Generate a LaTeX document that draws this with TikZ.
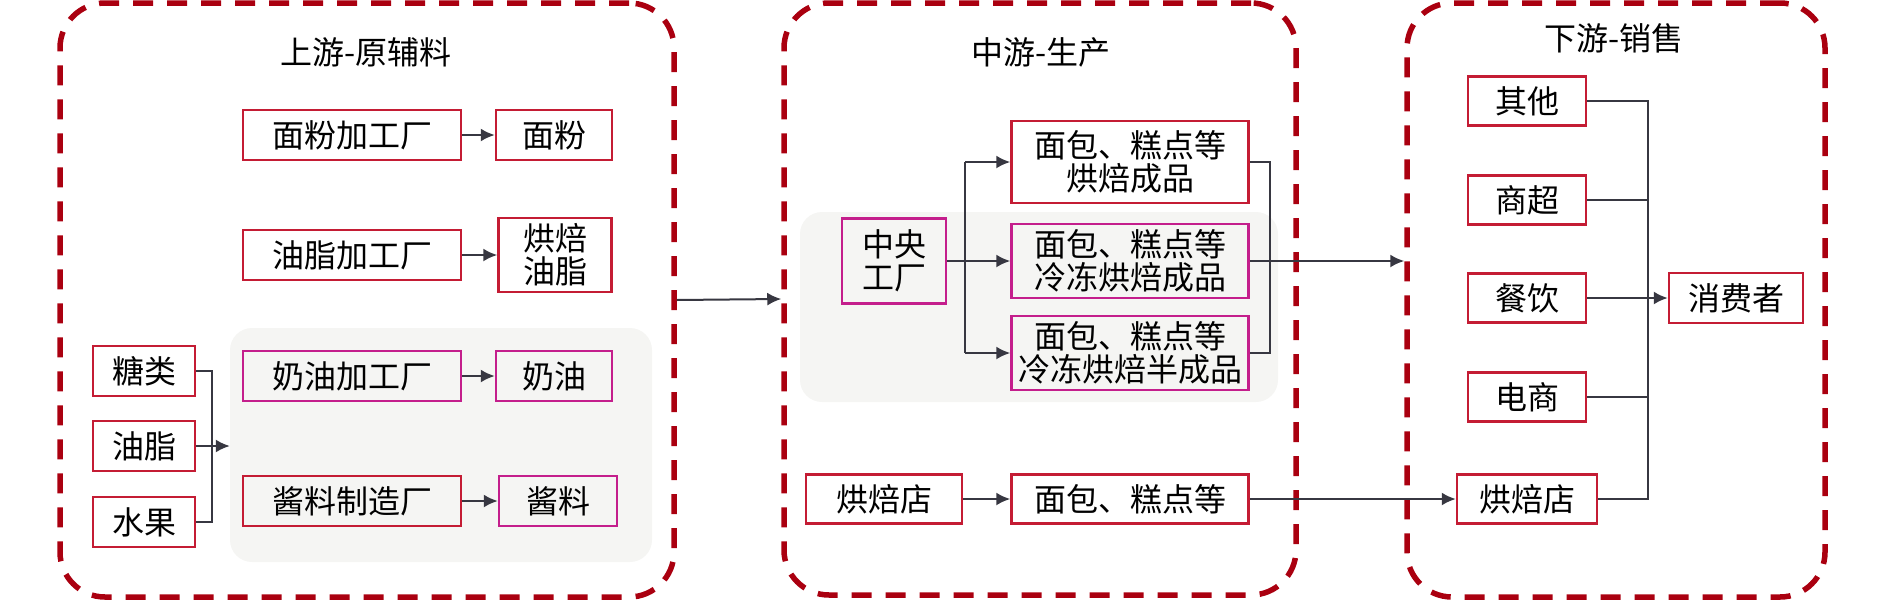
\documentclass[tikz,border=0pt]{standalone}
\usepackage{fontspec}
\setmainfont{Noto Sans CJK SC}
\usetikzlibrary{arrows.meta}
\definecolor{panelred}{RGB}{170,0,16}
\definecolor{boxred}{RGB}{196,28,52}
\definecolor{boxpink}{RGB}{196,30,140}
\definecolor{bggray}{RGB}{245,245,243}
\definecolor{linegray}{RGB}{55,55,65}
\begin{document}
\begin{tikzpicture}[x=1pt,y=-1pt,
  panel/.style={draw=panelred,line width=5.5pt,dash pattern=on 20pt off 14pt,rounded corners=45pt,inner sep=0pt},
  bg/.style={fill=bggray,rounded corners=22pt,inner sep=0pt},
  box/.style={draw=boxred,line width=2.5pt,inner sep=0pt,align=center,font=\fontsize{32}{33}\selectfont},
  pbox/.style={box,draw=boxpink},
  title/.style={font=\fontsize{32}{34}\selectfont},
  conn/.style={draw=linegray,line width=2pt},
  arr/.style={conn,-{Latex[length=14pt,width=13pt]}}]
  \useasboundingbox (0,0) rectangle (1890,600);

  % panels
  \node[panel,minimum width=614pt,minimum height=594pt] (upanel) at (367,300){};
  \node[panel,minimum width=512pt,minimum height=592pt] (mpanel) at (1040,299){};
  \node[panel,minimum width=418pt,minimum height=594pt] (dpanel) at (1616,300){};
  \node[title] (utitle) at (366,52){上游-原辅料};
  \node[title] (mtitle) at (1041,52){中游-生产};
  \node[title] (dtitle) at (1614,38){下游-销售};

  % gray backgrounds
  \node[bg,minimum width=422pt,minimum height=234pt] (ubg) at (441,445){};
  \node[bg,minimum width=478pt,minimum height=190pt] (mbg) at (1039,307){};

  % upstream
  \node[box,minimum width=218pt,minimum height=50pt] (mfjg) at (352,135){面粉加工厂};
  \node[box,minimum width=116pt,minimum height=50pt] (mf) at (554,135){面粉};
  \node[box,minimum width=218pt,minimum height=50pt] (yzjg) at (352,255){油脂加工厂};
  \node[box,minimum width=113pt,minimum height=74pt] (hbyz) at (555,255){烘焙\\油脂};
  \node[pbox,minimum width=218pt,minimum height=50pt] (nyjg) at (352,376){奶油加工厂};
  \node[pbox,minimum width=116pt,minimum height=50pt] (ny) at (554,376){奶油};
  \node[box,minimum width=218pt,minimum height=50pt] (jlzz) at (352,501){酱料制造厂};
  \node[pbox,minimum width=118pt,minimum height=50pt] (jl) at (558,501){酱料};
  \node[box,minimum width=102pt,minimum height=50pt] (tl) at (144,371){糖类};
  \node[box,minimum width=102pt,minimum height=50pt] (yz) at (144,446){油脂};
  \node[box,minimum width=102pt,minimum height=50pt] (sg) at (144,522){水果};

  \draw[arr] (mfjg) -- (mf);
  \draw[arr] (yzjg) -- (hbyz);
  \draw[arr] (nyjg) -- (ny);
  \draw[arr] (jlzz) -- (jl);
  \coordinate (brk) at (212,446);
  \draw[conn] (tl.east) -| (brk) |- (sg.east);
  \draw[arr] (yz.east) -- (yz.east -| ubg.west);

  % midstream
  \node[pbox,minimum width=104pt,minimum height=85pt] (zy) at (894,261){中央\\工厂};
  \node[box,minimum width=237pt,minimum height=82pt] (p1) at (1130,162){面包、糕点等\\烘焙成品};
  \node[pbox,minimum width=237pt,minimum height=74pt] (p2) at (1130,261){面包、糕点等\\冷冻烘焙成品};
  \node[pbox,minimum width=237pt,minimum height=74pt] (p3) at (1130,353){面包、糕点等\\冷冻烘焙半成品};
  \node[box,minimum width=156pt,minimum height=49pt] (hbd1) at (884,499){烘焙店};
  \node[box,minimum width=237pt,minimum height=49pt] (bread) at (1130,499){面包、糕点等};

  \coordinate (split) at (965,261);
  \coordinate (mbus) at (1270,261);
  \draw[arr] (zy) -- (p2);
  \draw[conn] (split |- p1.west) -- (split |- p3.west);
  \draw[arr] (split |- p1.west) -- (p1.west);
  \draw[arr] (split |- p3.west) -- (p3.west);
  \draw[conn] (p1.east) -| (mbus |- p3.east) -- (p3.east);
  \draw[arr] (hbd1) -- (bread);
  \draw[arr] (upanel.east) -- (mpanel.west);
  \draw[arr] (p2.east) -- (p2.east -| dpanel.west);

  % downstream
  \node[box,minimum width=118pt,minimum height=49pt] (qt) at (1527,101){其他};
  \node[box,minimum width=118pt,minimum height=49pt] (sc) at (1527,200){商超};
  \node[box,minimum width=118pt,minimum height=49pt] (cy) at (1527,298){餐饮};
  \node[box,minimum width=118pt,minimum height=49pt] (ds) at (1527,397){电商};
  \node[box,minimum width=140pt,minimum height=49pt] (hbd2) at (1527,499){烘焙店};
  \node[box,minimum width=134pt,minimum height=50pt] (xfz) at (1736,298){消费者};

  \draw[arr] (bread) -- (hbd2);
  \coordinate (bus) at (1648,300);
  \draw[conn] (qt.east) -| (bus |- hbd2.east) -- (hbd2.east);
  \foreach \n in {sc,ds}{
    \draw[conn] (\n.east) -- (\n.east -| bus);
  }
  \draw[arr] (cy) -- (xfz);
\end{tikzpicture}
\end{document}
